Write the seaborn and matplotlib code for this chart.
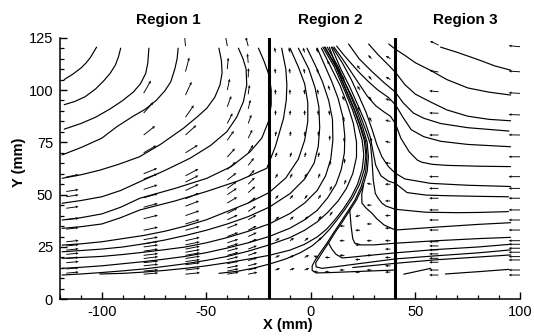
import numpy as np
import pandas as pd
import matplotlib
matplotlib.use("Agg")
import matplotlib.pyplot as plt
from matplotlib.ticker import MultipleLocator
import seaborn as sns

sns.set_style("ticks")
plt.rcParams['font.family'] = ['Liberation Sans', 'DejaVu Sans']
plt.rcParams['axes.unicode_minus'] = False
for key in ['text.color', 'axes.labelcolor', 'xtick.color', 'ytick.color', 'axes.edgecolor']:
    plt.rcParams[key] = 'black'

# ---------------- data (mm) ----------------
region_labels = ["Region 1", "Region 2", "Region 3"]
region_label_x = [-68, 9.5, 74]
region_bounds = [-20, 40]
x_major_ticks = [-100, -50, 0, 50, 100]
y_major_ticks = [0, 25, 50, 75, 100, 125]

# streamlines, region 1 -> region 2 (flow from left, turning up)
L1 = [(-118,105),(-114,107.5),(-110,110.5),(-107.5,113),(-105.5,115.5),(-104,118),(-102.5,120.5)]
L2 = [(-118,93),(-113,94.5),(-108,96.8),(-103,100.5),(-99,104.5),(-96,108),(-93.5,112),(-92,116),(-91,120)]
L3 = [(-118,81.3),(-110,84),(-103,87),(-96,91),(-90,95),(-85,99),(-81.5,103),(-79,108),(-78,113),(-77.5,120)]
L4 = [(-119,69),(-110,72.5),(-100,77),(-92.8,82.5),(-85,87.5),(-79.4,90.7),(-74,95),(-69.8,99.7),(-67,104),
      (-65,110.4),(-64,115),(-63.5,120)]
L5 = [(-119,57.8),(-110,59.5),(-101,61.7),(-92,64.5),(-82,68.1),(-72,74),(-61,81.7),(-54,87.5),(-49.8,91.3),
      (-46,96.5),(-43.5,102.4),(-42.5,108),(-42.8,114),(-44,120)]
L6 = [(-119,45.9),(-110,47.2),(-100,49),(-91,52),(-81.8,56.2),(-70,61.5),(-57.8,67.4),(-48,73.5),(-40.2,80.1),
      (-35.5,87),(-32.3,94.4),(-30.7,102.4),(-31,110),(-32.5,115),(-34.7,120)]
L7 = [(-119,37.9),(-110,39),(-100,40.8),(-91,44),(-81.8,48.3),(-65,53),(-49.8,57.8),(-38,63.5),(-29.1,70.5),
      (-23.5,77),(-20.3,85),(-19,93),(-19,100),(-20,107),(-22.5,114),(-25.1,120)]
L8 = [(-119,33.9),(-110,34.7),(-100,36),(-91,39),(-81.8,42.7),(-65,47),(-50,51.5),(-35,56.5),(-21.1,62.6),
      (-17,73),(-13.1,86.5),(-11.8,95),(-11.5,102.4),(-12,110),(-14,120)]
L9 = [(-119,25.9),(-110,26.5),(-100,27.5),(-90,29),(-80,30.5),(-70,32.5),(-60,35),(-50,38),(-40,42),(-30,46),
      (-20,51),(-12,58),(-6,67),(-3,76),(-1.5,85),(-1.5,94),(-3,103),(-6,111),(-10,120)]
L10 = [(-119,22.7),(-110,23.3),(-100,24),(-90,25),(-80,26.5),(-70,28.3),(-60,30.5),(-50,33),(-40,36),(-30,39.5),
       (-20,44),(-10,50.5),(-3,57.5),(1.5,65),(3.5,73),(4.2,82),(3.8,92),(2,101),(-1,110),(-6,120)]
L11 = [(-119,19.6),(-110,20),(-100,20.5),(-90,21.4),(-80,22.5),(-70,23.7),(-60,25),(-50,27),(-40,29.5),(-30,32.5),
       (-20,36),(-10,41),(-3,46),(3,52),(7,59),(9.5,67),(10.5,76),(10.3,86),(8.5,95),(5.5,104),(2,112),(-1.9,120)]
L12 = [(-119,14.8),(-110,15.3),(-100,16),(-90,17),(-80,18),(-70,19.2),(-60,20.5),(-50,22.3),(-40,24.5),(-30,27),
       (-20,30),(-10,34),(-3,38),(3,42.5),(8,48.5),(12,55),(14.5,62),(16,70),(16.2,78),(15.3,87),(13,96),(10,104),
       (6.5,112),(3,120)]
L13 = [(-119,11.6),(-110,12.1),(-100,12.8),(-90,13.6),(-80,14.5),(-70,15.7),(-60,17),(-50,18.6),(-40,20.5),(-30,23),
       (-20,26),(-10,29.5),(-3,33),(3,37),(8,41.5),(13,47),(17,53),(20,60),(21.8,68),(21.8,75),(20.3,84),(17.5,93),
       (14,102),(9.5,111),(5,120)]
L14 = [(-101,12.1),(-90,12.4),(-80,13),(-70,13.8),(-60,14.8),(-50,16),(-40,17.5),(-30,19.2),(-20,21),(-10,23.5),
       (-3,26.3),(3,29.8),(7.5,33.5),(11.5,38),(15.5,43.2),(19.2,48.8),(22.3,55),(24.5,62),(25.3,69),(24.5,76),
       (22.5,83),(19.7,91),(16,100),(11.2,111),(5.7,120.5)]
L15 = [(-44,12.4),(-35,13.4),(-27,15),(-20,16.8),(-12,19.3),(-5,22.3),(0.5,25.5),(5,29.3),(8.8,33.3),(12.3,37.7),
       (16.3,43),(20,48.5),(23.3,55),(25.5,62),(26.3,69),(25.5,76),(23.4,83),(20.5,91),(16.7,100),(12,111),(6.5,120.5)]

# streamlines from region 3 (flow from right) into region 2
BR1 = [(95.5,23.6),(80,22.2),(60,20.8),(40.4,19.3),(25,17.3),(12,15.6),(5.3,14.8),(2.5,15.5),(2.3,17.5),(4.2,20.5),
       (6.6,24.2),(9.1,28),(11.6,32),(14.7,36.5),(18.6,42.5),(21.8,47.5),(24.8,53.8),(26.9,61),(27.5,68),(26.9,75),
       (24.8,82),(21.8,90.4),(17.8,100),(13.1,111),(7.8,120.5)]
BR2 = [(40.4,14),(25,13.4),(10,12.8),(2.5,12.6),(0.6,13.8),(0.6,16),(2.2,19),(5.1,23.2),(7.9,27.2),(10.6,31.4),
       (13.8,36.2),(17.8,42.3),(21.1,47.5),(24.1,54),(26.2,61.2),(26.8,68.2),(26.2,75.2),(24,82.2),(20.9,90.4),
       (16.9,100),(12.2,111),(6.8,120.5)]
C12 = [(95.5,26.3),(80,25),(60,23.8),(40.4,22.2),(28,21),(18,20),(14.9,19.8),(12,21.5),(10,24),(8.5,26.8)]
C11 = [(95.5,29.6),(80,29),(60,28),(40.4,26.8),(30,26),(24,26),(21,26.8),(20,29),(19.2,35),(18.8,40),(18.5,43.5)]
C10 = [(95.5,36.6),(80,35.8),(60,34.5),(40.4,33.1),(35,35.5),(31.5,38.5),(29.2,41.1),(26.5,43.5),(24.4,45.9),
       (24.3,50),(25.2,55)]
C9 = [(94.5,41.9),(80,41.5),(70,41.4),(55,41.6),(40.4,43),(36,44.5),(34,45.9),(32,48.5),(30.8,50.6),(29.8,57),
      (29.2,66.6),(28.5,74),(26.5,80),(23.5,88),(19.5,97),(15,106),(11.5,113),(8.8,120.5)]
C8 = [(94.5,49),(80,49.2),(65,49.5),(55,49.8),(46,51),(40.4,55.4),(37,56.5),(33.5,59),(31,64),(29.8,70),(28.5,77),
      (26.2,84),(22.8,92),(18.8,101),(14.3,110),(9.8,120.5)]
C7 = [(95.5,53.9),(75,54.5),(57.2,55.4),(45,57.5),(40.4,60.2),(37,63.5),(34,68),(31.5,74),(29.3,81),(26.5,89),
      (23,97),(19.3,105),(15,113),(10.3,120.5)]
C6 = [(95.5,63.4),(80,63.6),(65,64),(58,64.5),(53,65.5),(50.8,66.6),(47,70.5),(43,77),(40.4,84),(38,87.5),(35,89.5),
      (31,92.5),(27,97),(23,103),(19,109),(15,115),(11,120.5)]
C5 = [(95.5,72.9),(75,74),(62,75.5),(54,77.7),(48,81),(44,87),(40.4,93),(37,96.5),(32,100),(27.5,104),(23,108.5),
      (19,113),(15.5,117),(12.3,121)]
C4 = [(94.7,80.4),(75,82),(62,84),(54,86.5),(49,89),(44,94),(40.4,99),(35,103.5),(29,109),(23,115),(18,122)]
C3 = [(95.5,85.3),(85,86),(75,87.5),(65,90.5),(57,94.4),(50,98),(45,102.5),(40.4,108.5),(36,113),(32,117),(27.6,122)]
C2 = [(95.5,97.6),(85,99),(75,101),(65,105),(57,109.5),(50,113),(45,116.5),(40.4,119.5),(37.2,122)]
C1 = [(62,120.5),(70,118),(80,114.5),(88,111.5),(95.5,109.5)]
C13b = [(20,15.2),(40.4,17.2),(60,18.9),(80,20.2),(95.5,21.2)]
S1 = [(44.4,12),(50,13.2),(57.3,14.8)]
S2 = [(64.3,12.1),(80,13.2),(94.7,14.3)]

streamlines = [L1, L2, L3, L4, L5, L6, L7, L8, L9, L10, L11, L12, L13, L14, L15,
               BR1, BR2, C12, C11, C10, C9, C8, C7, C6, C5, C4, C3, C2, C1, C13b, S1, S2]

# velocity vectors: columns of (tail x, tail y list, angle list in deg, length mm)
r1a_y = [12.5,14.5,17.5,19.5,21.5,23.5,25.5,27.5,33.5,38,43.5,49,51.5,58.5]
r1a_ang = [5,5,5,5,5,6,6,6,7,7,8,9,9,10]
r1b_y = [12,13.5,16,17.5,19.5,21,23,25,26.5,28.5,33,38.5,44,48.5,52.5,57.5,60,70,78.5,89,98.5]
r1b_ang = [5,5,6,6,7,7,8,8,9,10,12,14,15,16,18,20,22,30,38,48,60]
r1c_y = [12,14,16.5,18,19.5,21,22.5,24,26,28,33,36,40,44.5,48,52,56,59,70,78.5,87,97.6,108.8,121]
r1c_ang = [6,7,8,8,9,10,10,11,12,13,15,17,19,21,23,25,27,28,32,42,55,65,75,95]
r1d_y = [12,13.5,15,17,19,21,23,25,27,30,34,38,41,46,50,53,57,62,68,76,84,92,100,110,121]
r1d_ang = [10,11,12,13,14,15,16,17,18,20,22,25,28,31,34,36,38,42,48,55,63,70,78,85,100]
r1e_y = [12,14,16,18.5,21,24,27,30,33,38,42,46,51,55,58.5,64,70,77,84,91,98,106,113,121]
r1e_ang = [12,14,15,17,19,21,23,25,27,30,34,37,41,45,48,52,58,64,70,76,82,88,95,105]
r2_y_a = [118,108,98,88,78,68,58,48,38,28,20,14]
r2a_ang = [100,95,90,88,80,70,60,50,40,30,25,20]
r2b_ang = [105,98,92,88,82,72,62,52,42,35,28,22]
r2c_ang = [110,100,95,90,85,75,65,55,45,38,30,22]
r2d_y = [118,108,98,88,78,68,58,48,38,28,20,13]
r2d_ang = [115,105,100,92,85,78,68,58,50,45,160,170]
r2e_y = [112,100,88,76,64,52,40,20,13]
r2e_ang = [120,110,100,90,80,65,55,180,175]
r2f_y = [105,95,85,75,65,55,35,28,21,14]
r2f_ang = [125,115,105,95,85,70,180,180,180,180]
r2g_y = [110,100,90,40,33,26,19,13]
r2g_ang = [130,125,115,190,180,180,180,180]
r2h_y = [115,105,95,85,75,55,45,36,28,21,14]
r2h_ang = [135,130,125,120,100,170,180,180,180,180,180]
r2i_y = [115,105,95,85,75,65,55,47,40,34,28,24,20,16,13]
r2i_ang = [150,150,160,165,170,175,180,180,180,180,180,180,180,180,180]
r3a_y = [121.5,108.6,99.2,88.9,78.5,68.1,58.6,53,48.3,42.7,37.9,33.1,27.5,25.5,23.6,21.7,19.6,17.7,14,11.6]
r3a_ang = [155,170,175,178,180,180,180,180,180,180,180,180,180,180,180,180,180,180,180,180]
r3b_y = [120.7,108.7,98.4,88.1,78.5,68.1,58.6,53,48.3,42.7,37.9,33.1,28,26.3,24.4,22.5,20.4,18.8,14,11.6]
r3b_ang = [175,176,177,178,179,180,180,180,180,180,180,180,180,180,180,180,180,180,180,180]

vector_columns = [
    (-117, r1a_y, r1a_ang, 6.0),
    (-80, r1b_y, r1b_ang, 7.0),
    (-60, r1c_y, r1c_ang, 7.0),
    (-40, r1d_y, r1d_ang, 5.5),
    (-30, r1e_y, r1e_ang, 4.5),
    (-17, r2_y_a, r2a_ang, 2.4),
    (-10, r2_y_a, r2b_ang, 2.4),
    (-3, r2_y_a, r2c_ang, 2.4),
    (3.5, r2d_y, r2d_ang, 2.4),
    (9, r2e_y, r2e_ang, 2.4),
    (16, r2f_y, r2f_ang, 2.4),
    (23.5, r2g_y, r2g_ang, 2.4),
    (29, r2h_y, r2h_ang, 2.4),
    (38, r2i_y, r2i_ang, 2.6),
    (61, r3a_y, r3a_ang, 4.5),
    (100, r3b_y, r3b_ang, 5.5),
]

# ---------------- build tables ----------------
rows = []
for i, pts in enumerate(streamlines):
    for k, (x, y) in enumerate(pts):
        rows.append((i, k, x, y))
df = pd.DataFrame(rows, columns=["line", "order", "x", "y"])

vx, vy, vu, vv = [], [], [], []
for x0, ys, angs, ln in vector_columns:
    for y0, a in zip(ys, angs):
        vx.append(x0); vy.append(y0)
        vu.append(ln * np.cos(np.radians(a))); vv.append(ln * np.sin(np.radians(a)))
vec = pd.DataFrame({"x": vx, "y": vy, "u": vu, "v": vv})

# ---------------- figure ----------------
fig = plt.figure(figsize=(5.34, 3.36), dpi=100)
ax = fig.add_axes([0.1124, 0.1092, 0.8614, 0.7786])

sns.lineplot(data=df, x="x", y="y", units="line", estimator=None, sort=False,
             color="black", lw=0.85, ax=ax, legend=False)
ax.quiver(vec["x"], vec["y"], vec["u"], vec["v"], angles="xy", scale_units="xy", scale=1,
          pivot="tail", width=0.002, headwidth=3.0, headlength=3.4, headaxislength=3.0,
          color="black", zorder=3)

for xb in region_bounds:
    ax.axvline(xb, color="black", lw=2.2, zorder=4)

ax.set_xlim(-120, 100)
ax.set_ylim(0, 125)
for s in ["top", "right"]:
    ax.spines[s].set_visible(False)
for s in ["left", "bottom"]:
    ax.spines[s].set_linewidth(1.1)
    ax.spines[s].set_color("black")

ax.set_xticks(x_major_ticks)
ax.set_yticks(y_major_ticks)
ax.xaxis.set_minor_locator(MultipleLocator(10))
ax.yaxis.set_minor_locator(MultipleLocator(5))
ax.tick_params(which="major", direction="in", length=5, width=1.0, labelsize=10.5, colors="black")
ax.tick_params(which="minor", direction="in", length=2.7, width=0.9, colors="black")
ax.tick_params(axis="x", pad=4)
ax.tick_params(axis="y", pad=5)

ax.set_xlabel("X (mm)", fontsize=10.5, fontweight="bold")
ax.set_ylabel("Y (mm)", fontsize=10.5, fontweight="bold")
ax.xaxis.set_label_coords(0.4946, -0.072)
ax.yaxis.set_label_coords(-0.074, 0.525)

for lab, xc in zip(region_labels, region_label_x):
    ax.text(xc, 133.4, lab, ha="center", va="center", fontsize=11, fontweight="bold", clip_on=False)

fig.savefig("out.png", dpi=100)
